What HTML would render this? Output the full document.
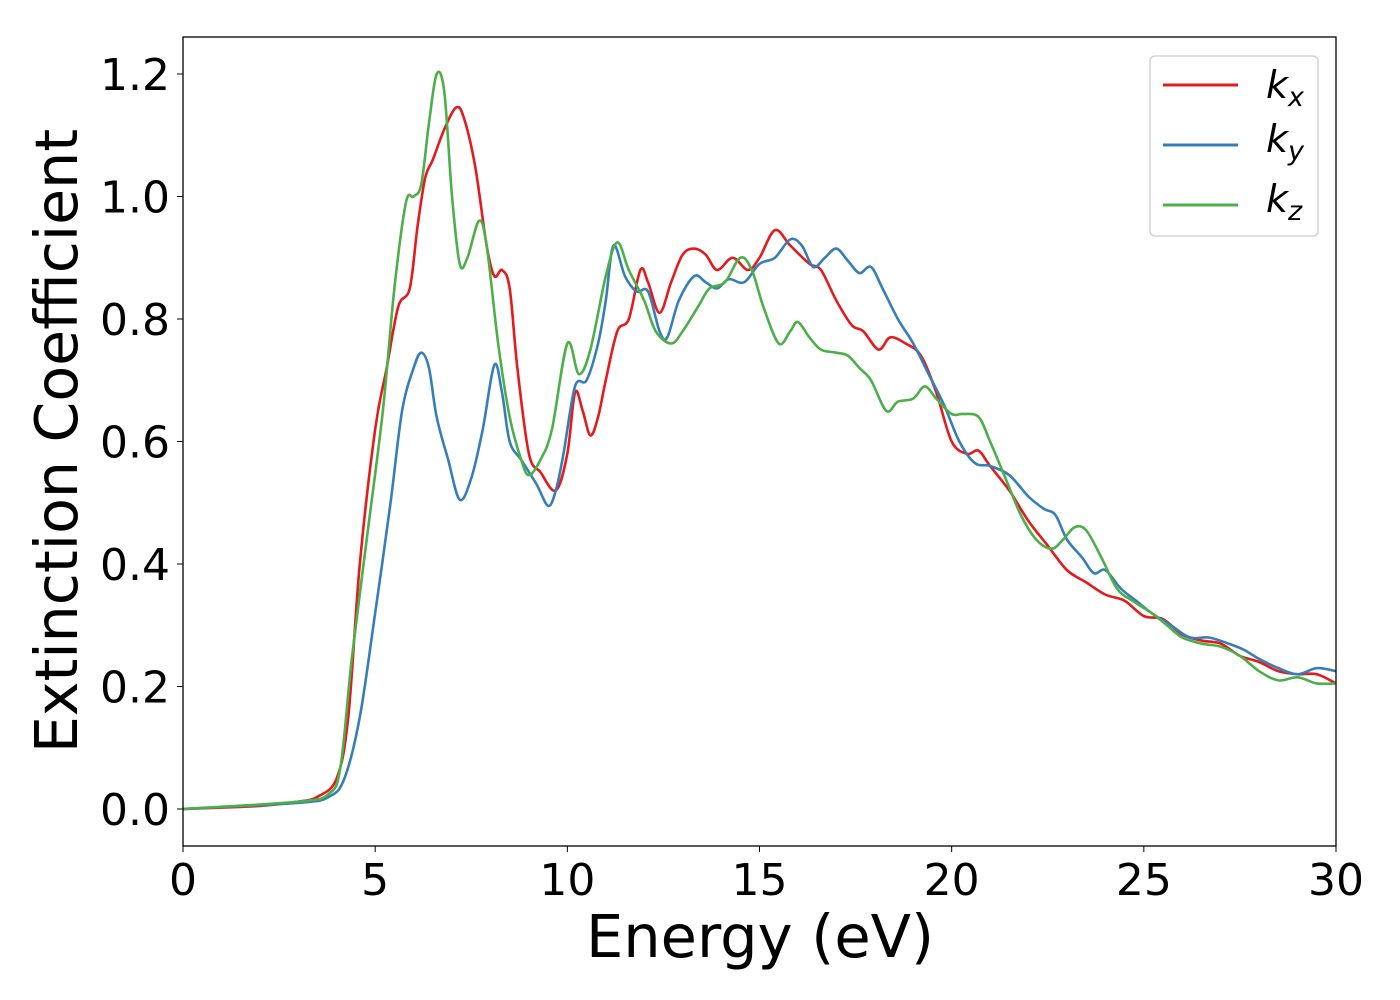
<!DOCTYPE html>
<html><head><meta charset="utf-8"><style>
body{margin:0;background:#fff;}
svg{display:block;font-family:"DejaVu Sans","Liberation Sans",sans-serif;}
</style></head><body>
<svg id="chart" width="1400" height="1000">
<rect x="0" y="0" width="1400" height="1000" fill="#fff"/>
<g id="plot"></g>
<rect x="183" y="37" width="1153" height="809" fill="none" stroke="#000" stroke-width="1.3"/>
<g id="xt"></g>
<g id="yt"></g>
<text x="760" y="957" font-size="59" text-anchor="middle">Energy (eV)</text>
<text transform="translate(77,441) rotate(-90)" font-size="58.5" text-anchor="middle">Extinction Coefficient</text>
<g>
<rect x="1150" y="56" width="168" height="180" rx="5" fill="#fff" stroke="#ccc" stroke-width="1.3"/>
<g><line x1="1163" y1="85" x2="1238" y2="85" stroke="#e41a1c" stroke-width="3"/><text x="1266" y="98" font-size="38" font-style="italic">k<tspan font-size="27" dy="8">x</tspan></text></g>
<g><line x1="1163" y1="145" x2="1238" y2="145" stroke="#377eb8" stroke-width="3"/><text x="1266" y="152" font-size="38" font-style="italic">k<tspan font-size="27" dy="8">y</tspan></text></g>
<g><line x1="1163" y1="205" x2="1238" y2="205" stroke="#4daf4a" stroke-width="3"/><text x="1266" y="212" font-size="38" font-style="italic">k<tspan font-size="27" dy="8">z</tspan></text></g>
</g>
</svg>
<script>
const xTicks=[0,5,10,15,20,25,30];
const yTicks=[0.0,0.2,0.4,0.6,0.8,1.0,1.2];
const kxE=[0,2,3,3.5,4,4.3,4.6,5,5.3,5.6,5.9,6.1,6.3,6.5,6.8,7.1,7.3,7.6,7.9,8.1,8.3,8.5,8.7,9.0,9.3,9.7,10.0,10.2,10.4,10.6,10.8,11.0,11.3,11.6,11.9,12.1,12.4,12.7,13.0,13.3,13.6,13.9,14.3,14.7,15.0,15.4,15.8,16.3,16.6,17.0,17.4,17.7,18.1,18.4,18.8,19.2,19.6,20.0,20.4,20.7,21.0,21.5,22.0,22.5,23.0,23.5,24.0,24.5,25.0,25.5,26.0,26.5,27.0,27.5,28.0,28.5,29.0,29.5,30];
const kxV=[0,0.005,0.012,0.02,0.05,0.15,0.4,0.62,0.72,0.82,0.85,0.95,1.03,1.06,1.11,1.145,1.13,1.05,0.92,0.87,0.88,0.85,0.72,0.58,0.55,0.52,0.58,0.68,0.65,0.61,0.64,0.7,0.78,0.8,0.88,0.86,0.81,0.86,0.905,0.915,0.905,0.88,0.9,0.88,0.9,0.945,0.92,0.89,0.88,0.83,0.79,0.78,0.75,0.77,0.76,0.74,0.68,0.6,0.58,0.585,0.56,0.52,0.47,0.43,0.39,0.37,0.35,0.34,0.315,0.31,0.285,0.275,0.27,0.25,0.24,0.225,0.22,0.22,0.205];
const kyE=[0,3,3.8,4.2,4.6,5.0,5.4,5.7,6.0,6.2,6.4,6.6,6.9,7.2,7.5,7.8,8.1,8.3,8.5,8.8,9.2,9.5,9.7,9.9,10.2,10.5,10.8,11.0,11.2,11.5,11.8,12.1,12.4,12.6,12.9,13.3,13.6,13.9,14.2,14.6,15.0,15.4,15.8,16.1,16.4,16.7,17.0,17.3,17.6,17.9,18.2,18.6,19.0,19.4,19.8,20.2,20.6,21.0,21.5,22.0,22.4,22.7,23.0,23.4,23.7,24.0,24.4,24.8,25.2,25.7,26.2,26.7,27.2,27.6,28.0,28.5,29.0,29.5,30];
const kyV=[0,0.01,0.02,0.05,0.15,0.32,0.5,0.65,0.72,0.745,0.72,0.64,0.57,0.505,0.54,0.62,0.725,0.68,0.6,0.57,0.53,0.495,0.52,0.58,0.69,0.7,0.76,0.83,0.92,0.87,0.845,0.845,0.78,0.77,0.83,0.87,0.86,0.85,0.865,0.86,0.89,0.9,0.93,0.92,0.885,0.9,0.915,0.895,0.875,0.885,0.85,0.8,0.76,0.71,0.66,0.6,0.565,0.56,0.545,0.51,0.49,0.48,0.44,0.41,0.385,0.39,0.36,0.34,0.32,0.3,0.28,0.28,0.27,0.26,0.245,0.23,0.22,0.23,0.225];
const kzE=[0,3,3.8,4.1,4.4,4.8,5.2,5.5,5.8,6.0,6.2,6.4,6.6,6.8,7.0,7.2,7.4,7.7,7.9,8.2,8.5,8.8,9.0,9.3,9.6,10.0,10.3,10.6,11.0,11.3,11.6,12.0,12.3,12.7,13.0,13.4,13.7,14.1,14.5,14.8,15.1,15.5,15.8,16.0,16.3,16.6,17.0,17.3,17.6,17.9,18.3,18.6,19.0,19.3,19.6,20.0,20.3,20.7,21.0,21.4,21.8,22.2,22.6,22.9,23.2,23.5,23.9,24.3,24.7,25.2,25.6,26.0,26.5,27.0,27.5,28.0,28.5,29.0,29.5,30];
const kzV=[0,0.012,0.025,0.07,0.25,0.45,0.65,0.85,0.99,1.0,1.02,1.12,1.2,1.17,1.0,0.89,0.9,0.96,0.92,0.76,0.64,0.57,0.545,0.57,0.62,0.76,0.71,0.75,0.87,0.925,0.88,0.83,0.78,0.76,0.78,0.82,0.85,0.86,0.9,0.88,0.82,0.76,0.78,0.795,0.77,0.75,0.745,0.74,0.72,0.7,0.65,0.665,0.67,0.69,0.67,0.645,0.645,0.64,0.6,0.54,0.48,0.44,0.425,0.44,0.46,0.455,0.41,0.36,0.34,0.32,0.3,0.28,0.27,0.265,0.25,0.225,0.21,0.215,0.205,0.205];
const NS='http://www.w3.org/2000/svg';
function xs(v){return 183+v*(1153/30);}
function ys(v){return 809-v*612.5;}
function path(E,V){
  const p=E.map((e,i)=>[xs(e),ys(V[i])]);
  let d='M'+p[0][0]+','+p[0][1];
  for(let i=0;i<p.length-1;i++){
    const p0=p[i>0?i-1:i],p1=p[i],p2=p[i+1],p3=p[i+2<p.length?i+2:i+1];
    const c1=[p1[0]+(p2[0]-p0[0])/6,p1[1]+(p2[1]-p0[1])/6];
    const c2=[p2[0]-(p3[0]-p1[0])/6,p2[1]-(p3[1]-p1[1])/6];
    d+='C'+c1+' '+c2+' '+p2;
  }
  return d;
}
const plot=document.getElementById('plot');
[[kxE,kxV,'#e41a1c','series-kx'],[kyE,kyV,'#377eb8','series-ky'],[kzE,kzV,'#4daf4a','series-kz']].forEach(s=>{
  const el=document.createElementNS(NS,'path');
  el.setAttribute('d',path(s[0],s[1]));
  el.setAttribute('fill','none');el.setAttribute('stroke',s[2]);el.setAttribute('stroke-width','2.6');
  
  
  plot.appendChild(el);
});
const xt=document.getElementById('xt');
xTicks.forEach(t=>{
  const l=document.createElementNS(NS,'line');
  l.setAttribute('x1',xs(t));l.setAttribute('x2',xs(t));l.setAttribute('y1',846);l.setAttribute('y2',852);l.setAttribute('stroke','#000');
  
  
  xt.appendChild(l);
  const tx=document.createElementNS(NS,'text');
  tx.setAttribute('x',xs(t));tx.setAttribute('y',895);tx.setAttribute('font-size','44');tx.setAttribute('text-anchor','middle');
  tx.textContent=t;
  
  
  xt.appendChild(tx);
});
const yt=document.getElementById('yt');
yTicks.forEach(t=>{
  const l=document.createElementNS(NS,'line');
  l.setAttribute('x1',177);l.setAttribute('x2',183);l.setAttribute('y1',ys(t));l.setAttribute('y2',ys(t));l.setAttribute('stroke','#000');
  
  
  yt.appendChild(l);
  const tx=document.createElementNS(NS,'text');
  tx.setAttribute('x',170);tx.setAttribute('y',ys(t)+16);tx.setAttribute('font-size','44');tx.setAttribute('text-anchor','end');
  tx.textContent=t.toFixed(1);
  
  
  yt.appendChild(tx);
});
</script>
</body></html>
